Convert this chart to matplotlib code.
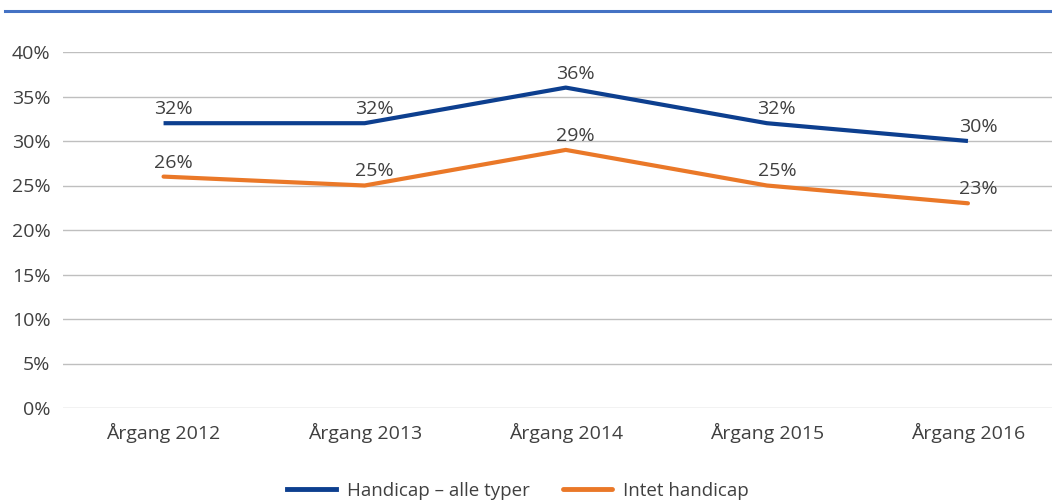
import matplotlib.pyplot as plt
from matplotlib.lines import Line2D

plt.rcParams['font.family'] = ['Open Sans', 'DejaVu Sans']

categories = ['Årgang 2012', 'Årgang 2013', 'Årgang 2014', 'Årgang 2015', 'Årgang 2016']
handicap = [0.32, 0.32, 0.36, 0.32, 0.30]
intet = [0.26, 0.25, 0.29, 0.25, 0.23]
series_names = ['Handicap – alle typer', 'Intet handicap']
yticks = [0, 0.05, 0.10, 0.15, 0.20, 0.25, 0.30, 0.35, 0.40]

blue = '#0d3f8f'
orange = '#ea7828'
text_col = '#404040'
fs = 14

W, H = 1052, 504
fig = plt.figure(figsize=(W / 100, H / 100), dpi=100)
ax = fig.add_axes([63 / W, 1 - 408 / H, (W - 63) / W, (408 - 52) / H])

x = list(range(len(categories)))
ax.plot(x, handicap, color=blue, lw=3.0, solid_capstyle='butt', zorder=3)
ax.plot(x, intet, color=orange, lw=3.0, solid_capstyle='round', zorder=3)

for xi, v in zip(x, handicap):
    ax.annotate(f'{v*100:.0f}%', (xi, v), xytext=(10, 5), textcoords='offset pixels',
                ha='center', va='bottom', fontsize=fs, color=text_col)
for xi, v in zip(x, intet):
    ax.annotate(f'{v*100:.0f}%', (xi, v), xytext=(10, 5), textcoords='offset pixels',
                ha='center', va='bottom', fontsize=fs, color=text_col)

ax.set_xlim(-0.5, 4.5 - 16.5 / 201)
ax.set_ylim(0, 0.4)
ax.set_yticks(yticks)
ax.set_yticklabels([f'{t*100:.0f}%' for t in yticks])
ax.set_xticks(x)
ax.set_xticklabels(categories)
ax.tick_params(axis='both', length=0, labelsize=fs, colors=text_col)
ax.tick_params(axis='y', pad=9)
ax.tick_params(axis='x', pad=11)
ax.grid(axis='y', color='#bfbfbf', lw=1.0)
ax.set_axisbelow(True)
for s in ax.spines.values():
    s.set_visible(False)

# top rule
fig.add_artist(Line2D([5 / W, 1], [1 - 11 / H, 1 - 11 / H], color='#4472c4', lw=2.2))

handles = [Line2D([], [], color=blue, lw=3.5), Line2D([], [], color=orange, lw=3.5, solid_capstyle='round')]
fig.legend(handles, series_names, loc='center', bbox_to_anchor=(518 / W, 1 - 491 / H),
           ncol=2, frameon=False, fontsize=13.5, labelcolor=text_col,
           handlelength=2.6, columnspacing=1.8, handletextpad=0.6)

fig.savefig('out.png', dpi=100)
